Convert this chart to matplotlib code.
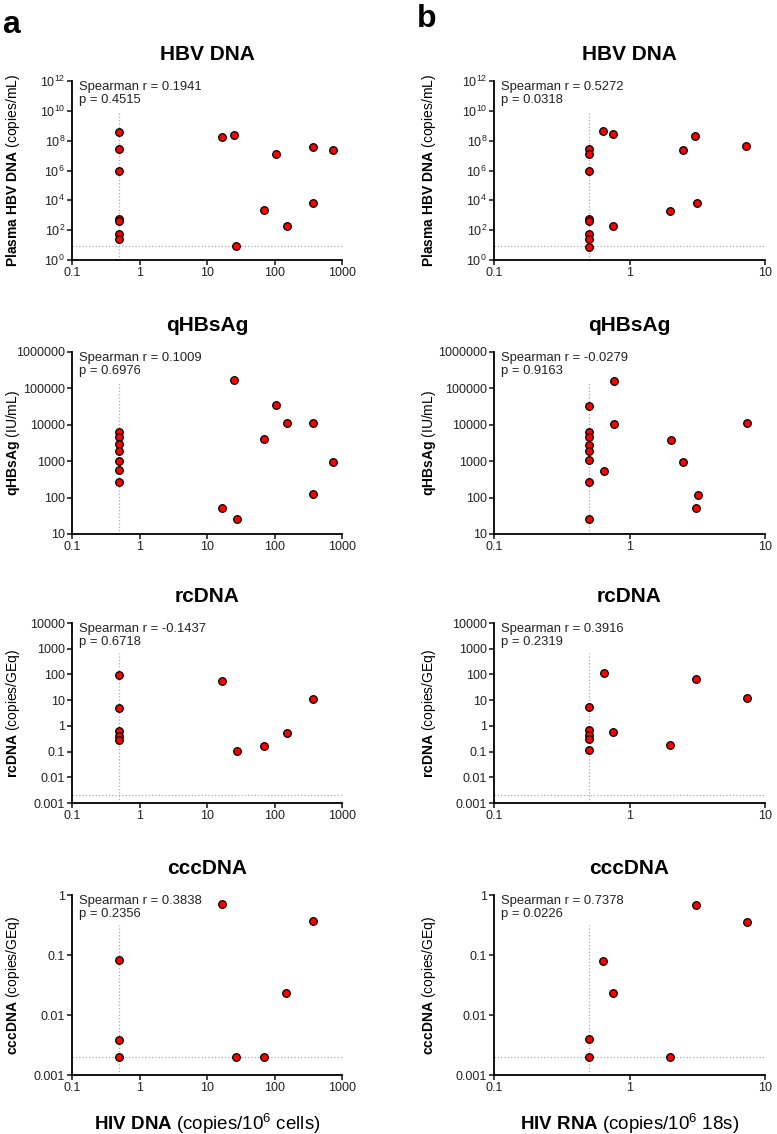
import numpy as np
import matplotlib
matplotlib.use('Agg')
import matplotlib.pyplot as plt
from matplotlib.ticker import FixedLocator, FixedFormatter, NullLocator

plt.rcParams['font.family'] = ['Liberation Sans', 'DejaVu Sans']
plt.rcParams['mathtext.fontset'] = 'custom'
plt.rcParams['mathtext.rm'] = 'Liberation Sans'
plt.rcParams['mathtext.it'] = 'Liberation Sans:italic'
plt.rcParams['mathtext.bf'] = 'Liberation Sans:bold'

# ---- data: column a = HIV DNA, column b = HIV RNA ----
hbv_a_x = [0.5, 0.5, 0.5, 0.5, 0.5, 0.5, 0.5, 16.6, 24.8, 27.2, 107, 69, 153, 367, 376, 725]
hbv_a_y = [3.8e8, 2.8e7, 8.7e5, 560, 400, 52, 27, 1.86e8, 2.5e8, 9, 1.27e7, 2130, 190, 4e7, 6300, 2.36e7]
hbv_b_x = [0.5, 0.5, 0.5, 0.5, 0.5, 0.5, 0.5, 0.5, 0.64, 0.75, 0.75, 2.0, 2.48, 3.05, 3.14, 7.25]
hbv_b_y = [2.8e7, 1.27e7, 8.7e5, 560, 400, 52, 27, 8, 4.2e8, 2.6e8, 190, 2000, 2.36e7, 1.95e8, 6300, 4.4e7]

hbs_a_x = [0.5, 0.5, 0.5, 0.5, 0.5, 0.5, 0.5, 24.8, 107, 153, 367, 69, 736, 372, 16.6, 27.8]
hbs_a_y = [6400, 4700, 2880, 1870, 1040, 560, 267, 1.7e5, 34600, 11000, 11200, 4100, 940, 125, 51, 26]
hbs_b_x = [0.5, 0.5, 0.5, 0.5, 0.5, 0.5, 0.5, 0.5, 0.77, 0.77, 0.65, 2.03, 2.5, 3.21, 3.12, 7.4]
hbs_b_y = [32600, 6200, 4550, 2800, 1900, 1050, 270, 26, 1.55e5, 10600, 550, 3900, 930, 120, 51, 11000]

rc_a_x = [0.5, 0.5, 0.5, 0.5, 0.5, 16.6, 27.8, 69, 153, 372]
rc_a_y = [96, 4.9, 0.65, 0.41, 0.29, 56, 0.107, 0.17, 0.51, 10.8]
rc_b_x = [0.5, 0.5, 0.5, 0.5, 0.5, 0.645, 0.76, 2.0, 3.09, 7.35]
rc_b_y = [5.4, 0.69, 0.44, 0.32, 0.114, 112, 0.58, 0.18, 65, 11.8]

ccc_a_x = [0.5, 0.5, 0.5, 16.6, 26.9, 69, 150, 367]
ccc_a_y = [0.081, 0.0039, 0.002, 0.70, 0.002, 0.002, 0.0236, 0.37]
ccc_b_x = [0.5, 0.5, 0.64, 0.75, 2.0, 3.08, 7.4]
ccc_b_y = [0.004, 0.002, 0.080, 0.0236, 0.002, 0.68, 0.36]

spearman_a = [("0.1941", "0.4515"), ("0.1009", "0.6976"), ("-0.1437", "0.6718"), ("0.3838", "0.2356")]
spearman_b = [("0.5272", "0.0318"), ("-0.0279", "0.9163"), ("0.3916", "0.2319"), ("0.7378", "0.0226")]

titles = ["HBV DNA", "qHBsAg", "rcDNA", "cccDNA"]
ylabels = [r"$\bf{Plasma\ HBV\ DNA}$ (copies/mL)", r"$\bf{qHBsAg}$ (IU/mL)",
           r"$\bf{rcDNA}$ (copies/GEq)", r"$\bf{cccDNA}$ (copies/GEq)"]
lloq = [9, None, 0.002, 0.002]

hbv_ticks = [1, 1e2, 1e4, 1e6, 1e8, 1e10, 1e12]
hbv_labels = [r"$10^{0}$", r"$10^{2}$", r"$10^{4}$", r"$10^{6}$", r"$10^{8}$", r"$10^{10}$", r"$10^{12}$"]
hbs_ticks = [10, 100, 1000, 10000, 100000, 1000000]
hbs_labels = ["10", "100", "1000", "10000", "100000", "1000000"]
rc_ticks = [0.001, 0.01, 0.1, 1, 10, 100, 1000, 10000]
rc_labels = ["0.001", "0.01", "0.1", "1", "10", "100", "1000", "10000"]
ccc_ticks = [0.001, 0.01, 0.1, 1]
ccc_labels = ["0.001", "0.01", "0.1", "1"]
yticks = [(hbv_ticks, hbv_labels), (hbs_ticks, hbs_labels), (rc_ticks, rc_labels), (ccc_ticks, ccc_labels)]

xa_ticks = [0.1, 1, 10, 100, 1000]
xa_labels = ["0.1", "1", "10", "100", "1000"]
xb_ticks = [0.1, 1, 10]
xb_labels = ["0.1", "1", "10"]

data_a = [(hbv_a_x, hbv_a_y), (hbs_a_x, hbs_a_y), (rc_a_x, rc_a_y), (ccc_a_x, ccc_a_y)]
data_b = [(hbv_b_x, hbv_b_y), (hbs_b_x, hbs_b_y), (rc_b_x, rc_b_y), (ccc_b_x, ccc_b_y)]

W, H = 777, 1134
fig = plt.figure(figsize=(W / 100, H / 100), dpi=100)

rows_px = [(81, 260), (352, 534), (623, 803), (895, 1075)]
cols_px = [(72, 342), (494, 765)]
# right edge of the rotated y label, in figure pixels
ylabel_x_px = [22, 438]


def make_axes(col, row):
    x0, x1 = cols_px[col]
    y0, y1 = rows_px[row]
    return fig.add_axes([x0 / W, 1 - y1 / H, (x1 - x0) / W, (y1 - y0) / H])


def draw_panel(ax, col, x, y, row, xticks, xlabels, stats):
    yt, yl = yticks[row]
    ax.set_xscale('log')
    ax.set_yscale('log')
    ax.set_xlim(xticks[0], xticks[-1])
    ax.set_ylim(yt[0], yt[-1])
    ax.axvline(0.5, ymin=0, ymax=0.833, color='#aaaaaa', ls=':', lw=0.9, zorder=1)
    if lloq[row] is not None:
        ax.axhline(lloq[row], color='#aaaaaa', ls=':', lw=0.9, zorder=1)
    ax.scatter(x, y, s=30, c='#ff0000', edgecolors='black', linewidths=0.9, zorder=3, clip_on=False)
    ax.xaxis.set_major_locator(FixedLocator(xticks))
    ax.xaxis.set_major_formatter(FixedFormatter(xlabels))
    ax.yaxis.set_major_locator(FixedLocator(yt))
    ax.yaxis.set_major_formatter(FixedFormatter(yl))
    ax.xaxis.set_minor_locator(NullLocator())
    ax.yaxis.set_minor_locator(NullLocator())
    for s in ['top', 'right']:
        ax.spines[s].set_visible(False)
    for s in ['left', 'bottom']:
        ax.spines[s].set_linewidth(1.3)
    ax.tick_params(axis='both', length=3.5, width=1.2, labelsize=9, pad=1.5, colors='#222222')
    ax.set_title(titles[row], fontsize=15, fontweight='bold', pad=15)
    ax.set_ylabel(ylabels[row], fontsize=10)
    x0, x1 = cols_px[col]
    ax.yaxis.set_label_coords((ylabel_x_px[col] - x0) / (x1 - x0), 0.5)
    ax.text(0.025, 1.0, "Spearman r = %s\np = %s" % stats, transform=ax.transAxes,
            va='top', ha='left', fontsize=9.4, linespacing=1.1, color='#222222')


for row in range(4):
    ax = make_axes(0, row)
    draw_panel(ax, 0, data_a[row][0], data_a[row][1], row, xa_ticks, xa_labels, spearman_a[row])
    if row == 3:
        ax.set_xlabel(r"$\bf{HIV\ DNA}$ (copies/10$^{6}$ cells)", fontsize=13.5, labelpad=13)
    ax = make_axes(1, row)
    draw_panel(ax, 1, data_b[row][0], data_b[row][1], row, xb_ticks, xb_labels, spearman_b[row])
    if row == 3:
        ax.set_xlabel(r"$\bf{HIV\ RNA}$ (copies/10$^{6}$ 18s)", fontsize=13.5, labelpad=13)

fig.text(2 / W, 1 - 33 / H, 'a', fontsize=23, fontweight='bold', va='baseline', ha='left')
fig.text(417 / W, 1 - 27 / H, 'b', fontsize=23, fontweight='bold', va='baseline', ha='left')

fig.savefig('out.png', dpi=100, facecolor='white')
